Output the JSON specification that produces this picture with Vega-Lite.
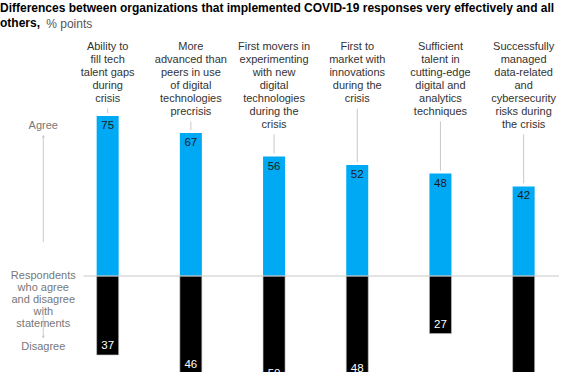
{
  "$schema": "https://vega.github.io/schema/vega-lite/v6.json",
  "width": 564,
  "height": 336,
  "autosize": {"type": "none"},
  "padding": {"top": 36, "left": 0, "right": 0, "bottom": 10},
  "background": "white",
  "config": {"view": {"stroke": null}, "font": "Liberation Sans"},
  "title": {
    "text": ["Differences between organizations that implemented COVID-19 responses very effectively and all", "others,"],
    "anchor": "start",
    "frame": "group",
    "font": "Liberation Sans",
    "fontSize": 12,
    "fontWeight": "bold",
    "color": "#000000",
    "lineHeight": 15,
    "offset": -12
  },
  "datasets": {
    "main": [
      {"pos": 1, "label": "Ability to\nfill tech\ntalent gaps\nduring\ncrisis", "agree": 75, "disagree": 37},
      {"pos": 2, "label": "More\nadvanced than\npeers in use\nof digital\ntechnologies\nprecrisis", "agree": 67, "disagree": 46},
      {"pos": 3, "label": "First movers in\nexperimenting\nwith new\ndigital\ntechnologies\nduring the\ncrisis", "agree": 56, "disagree": 50},
      {"pos": 4, "label": "First to\nmarket with\ninnovations\nduring the\ncrisis", "agree": 52, "disagree": 48},
      {"pos": 5, "label": "Sufficient\ntalent in\ncutting-edge\ndigital and\nanalytics\ntechniques", "agree": 48, "disagree": 27},
      {"pos": 6, "label": "Successfully\nmanaged\ndata-related\nand\ncybersecurity\nrisks during\nthe crisis", "agree": 42, "disagree": 55}
    ],
    "one": [{}]
  },
  "layer": [
    {
      "data": {"name": "main"},
      "transform": [
        {"calculate": "-datum.disagree", "as": "disNeg"},
        {"calculate": "102.7 - 6.05 * (length(split(datum.label, '\\n')) - 1)", "as": "connTop"},
        {"calculate": "datum.agree + 1.4", "as": "connBottom"}
      ],
      "encoding": {
        "x": {"field": "pos", "type": "quantitative", "scale": {"domain": [-0.234, 6.425], "nice": false, "zero": false}, "axis": null}
      },
      "layer": [
        {
          "mark": {"type": "bar", "color": "#00A9F4", "size": 22, "clip": true},
          "encoding": {
            "y": {"field": "agree", "type": "quantitative", "scale": {"domain": [-45, 112.5], "nice": false, "zero": false}, "axis": null}
          }
        },
        {
          "mark": {"type": "bar", "color": "#000000", "size": 22, "clip": true, "stroke": "#bdbdbd", "strokeWidth": 0.6},
          "encoding": {
            "y": {"field": "disNeg", "type": "quantitative"}
          }
        },
        {
          "mark": {"type": "rule", "color": "#c8c8c8", "strokeWidth": 1},
          "encoding": {
            "y": {"field": "connTop", "type": "quantitative"},
            "y2": {"field": "connBottom"}
          }
        },
        {
          "mark": {"type": "text", "lineBreak": "\n", "baseline": "top", "align": "center", "fontSize": 11, "lineHeight": 13, "color": "#333333"},
          "encoding": {
            "y": {"datum": 110.2},
            "text": {"field": "label", "type": "nominal"}
          }
        },
        {
          "mark": {"type": "text", "baseline": "middle", "align": "center", "fontSize": 11.5, "dy": 10, "color": "#1a1a1a", "clip": true},
          "encoding": {
            "y": {"field": "agree", "type": "quantitative"},
            "text": {"field": "agree", "type": "quantitative"}
          }
        },
        {
          "mark": {"type": "text", "baseline": "middle", "align": "center", "fontSize": 11.5, "dy": -9, "color": "#ffffff", "clip": true},
          "encoding": {
            "y": {"field": "disNeg", "type": "quantitative"},
            "text": {"field": "disagree", "type": "quantitative"}
          }
        }
      ]
    },
    {
      "data": {"name": "one"},
      "mark": {"type": "text", "baseline": "middle", "align": "left", "fontSize": 12, "color": "#555555"},
      "encoding": {"x": {"datum": 0.262}, "y": {"datum": 117.9}, "text": {"value": "% points"}}
    },
    {
      "data": {"name": "one"},
      "mark": {"type": "rule", "color": "#c8c8c8", "strokeWidth": 1},
      "encoding": {
        "x": {"datum": 0.71},
        "x2": {"datum": 6.425},
        "y": {"datum": 0}
      }
    },
    {
      "data": {"name": "one"},
      "mark": {"type": "text", "baseline": "middle", "align": "center", "fontSize": 11, "color": "#777777"},
      "encoding": {"x": {"datum": 0.226}, "y": {"datum": 70.3}, "text": {"value": "Agree"}}
    },
    {
      "data": {"name": "one"},
      "mark": {"type": "text", "baseline": "middle", "align": "center", "fontSize": 11, "lineHeight": 12, "lineBreak": "\n", "color": "#777777"},
      "encoding": {"x": {"datum": 0.226}, "y": {"datum": 0}, "text": {"value": "Respondents\nwho agree\nand disagree\nwith\nstatements"}}
    },
    {
      "data": {"name": "one"},
      "mark": {"type": "text", "baseline": "middle", "align": "center", "fontSize": 11, "color": "#777777"},
      "encoding": {"x": {"datum": 0.226}, "y": {"datum": -33.3}, "text": {"value": "Disagree"}}
    },
    {
      "data": {"name": "one"},
      "mark": {"type": "rule", "color": "#cccccc", "strokeWidth": 1},
      "encoding": {"x": {"datum": 0.226}, "y": {"datum": 65.6}, "y2": {"datum": 15.9}}
    },
    {
      "data": {"name": "one"},
      "mark": {"type": "rule", "color": "#cccccc", "strokeWidth": 1},
      "encoding": {"x": {"datum": 0.226}, "y": {"datum": -15}, "y2": {"datum": -28.6}}
    },
    {
      "data": {"name": "one"},
      "mark": {"type": "point", "shape": "triangle-up", "filled": true, "color": "#c8c8c8", "size": 10, "opacity": 1},
      "encoding": {"x": {"datum": 0.226}, "y": {"datum": 65.6}}
    },
    {
      "data": {"name": "one"},
      "mark": {"type": "point", "shape": "triangle-down", "filled": true, "color": "#c8c8c8", "size": 10, "opacity": 1},
      "encoding": {"x": {"datum": 0.226}, "y": {"datum": -28.6}}
    }
  ]
}
